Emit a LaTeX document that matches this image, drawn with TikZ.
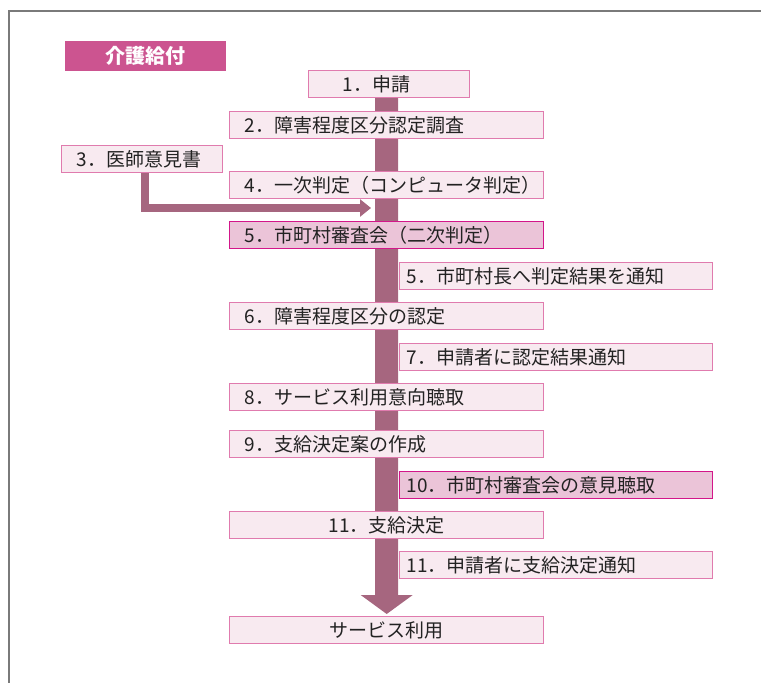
\documentclass[tikz,border=0pt]{standalone}
\usepackage{fontspec}
\newfontfamily\jp{Noto Sans CJK JP}
\usetikzlibrary{arrows.meta}
\definecolor{boxfill}{HTML}{F8EAF0}
\definecolor{boxline}{HTML}{E07BAE}
\definecolor{darkfill}{HTML}{EBC4D8}
\definecolor{darkline}{HTML}{D3168A}
\definecolor{barcol}{HTML}{A6667F}
\definecolor{titlecol}{HTML}{CC5490}
\definecolor{framecol}{HTML}{7A7A7A}
\definecolor{txt}{HTML}{222222}
\pgfdeclarelayer{background}
\pgfsetlayers{background,main}
\tikzset{
  fbox/.style={draw=boxline, fill=boxfill, line width=1.4pt, anchor=north west,
    minimum height=27pt, inner ysep=0pt, font=\jp\fontsize{19}{21}\selectfont,
    text=txt, align=left},
  darkbox/.style={fbox, draw=darkline, fill=darkfill},
  widebox/.style={inner xsep=15pt, text width=284pt},
  rightbox/.style={inner xsep=7pt, text width=299pt},
  centerbox/.style={inner xsep=0pt, text width=314pt, align=center},
  smallbox/.style={inner xsep=15pt, text width=131pt},
  titlebox/.style={fill=titlecol, anchor=north west, minimum width=161pt,
    minimum height=30pt, inner sep=0pt, text=white,
    font=\jp\bfseries\fontsize{20}{22}\selectfont},
  flowbar/.style={fill=barcol},
  framestyle/.style={draw=framecol, line width=1.8pt}
}
\begin{document}
\begin{tikzpicture}[x=1pt, y=-1pt]
\useasboundingbox (0,0) rectangle (761,683);
\draw[framestyle] (9,683) -- (9,11) -- (761,11);

\node[titlebox] (title) at (65,41) {介護給付};
\node[fbox, inner xsep=34pt, text width=93pt] (b1) at (308,70) {1．申請};
\node[fbox, widebox] (b2) at (229,111) {2．障害程度区分認定調査};
\node[fbox, smallbox] (b3) at (61,145) {3．医師意見書};
\node[fbox, widebox] (b4) at (229,171) {4．一次判定（コンピュータ判定）};
\node[darkbox, widebox] (b5) at (229,221) {5．市町村審査会（二次判定）};
\node[fbox, rightbox] (b5b) at (399,262) {5．市町村長へ判定結果を通知};
\node[fbox, widebox] (b6) at (229,302) {6．障害程度区分の認定};
\node[fbox, rightbox] (b7) at (399,343) {7．申請者に認定結果通知};
\node[fbox, widebox] (b8) at (229,383) {8．サービス利用意向聴取};
\node[fbox, widebox] (b9) at (229,430) {9．支給決定案の作成};
\node[darkbox, rightbox] (b10) at (399,471) {10．市町村審査会の意見聴取};
\node[fbox, centerbox] (b11) at (229,511) {11．支給決定};
\node[fbox, rightbox] (b11b) at (399,551) {11．申請者に支給決定通知};
\node[fbox, centerbox] (use) at (229,616) {サービス利用};

\coordinate (tip) at ([yshift=2pt]use.north);
\coordinate (bartop) at (tip |- b1.center);
\coordinate (c3) at ([xshift=2.5pt]b3.center);
\coordinate (bend) at (c3 |- 0,208);
\coordinate (side) at (371,208);

\begin{pgfonlayer}{background}
  \fill[flowbar] ([xshift=-11.5pt]bartop) -- ([xshift=-11.5pt,yshift=19pt]tip)
    -- ([xshift=-26pt,yshift=19pt]tip) -- (tip)
    -- ([xshift=26pt,yshift=19pt]tip) -- ([xshift=11.5pt,yshift=19pt]tip)
    -- ([xshift=11.5pt]bartop) -- cycle;
  \draw[barcol, line width=8pt, miter limit=10,
        -{Triangle[length=11pt 0 0, width=17pt 0 0]}] (c3) -- (bend) -- (side);
\end{pgfonlayer}
\end{tikzpicture}
\end{document}
